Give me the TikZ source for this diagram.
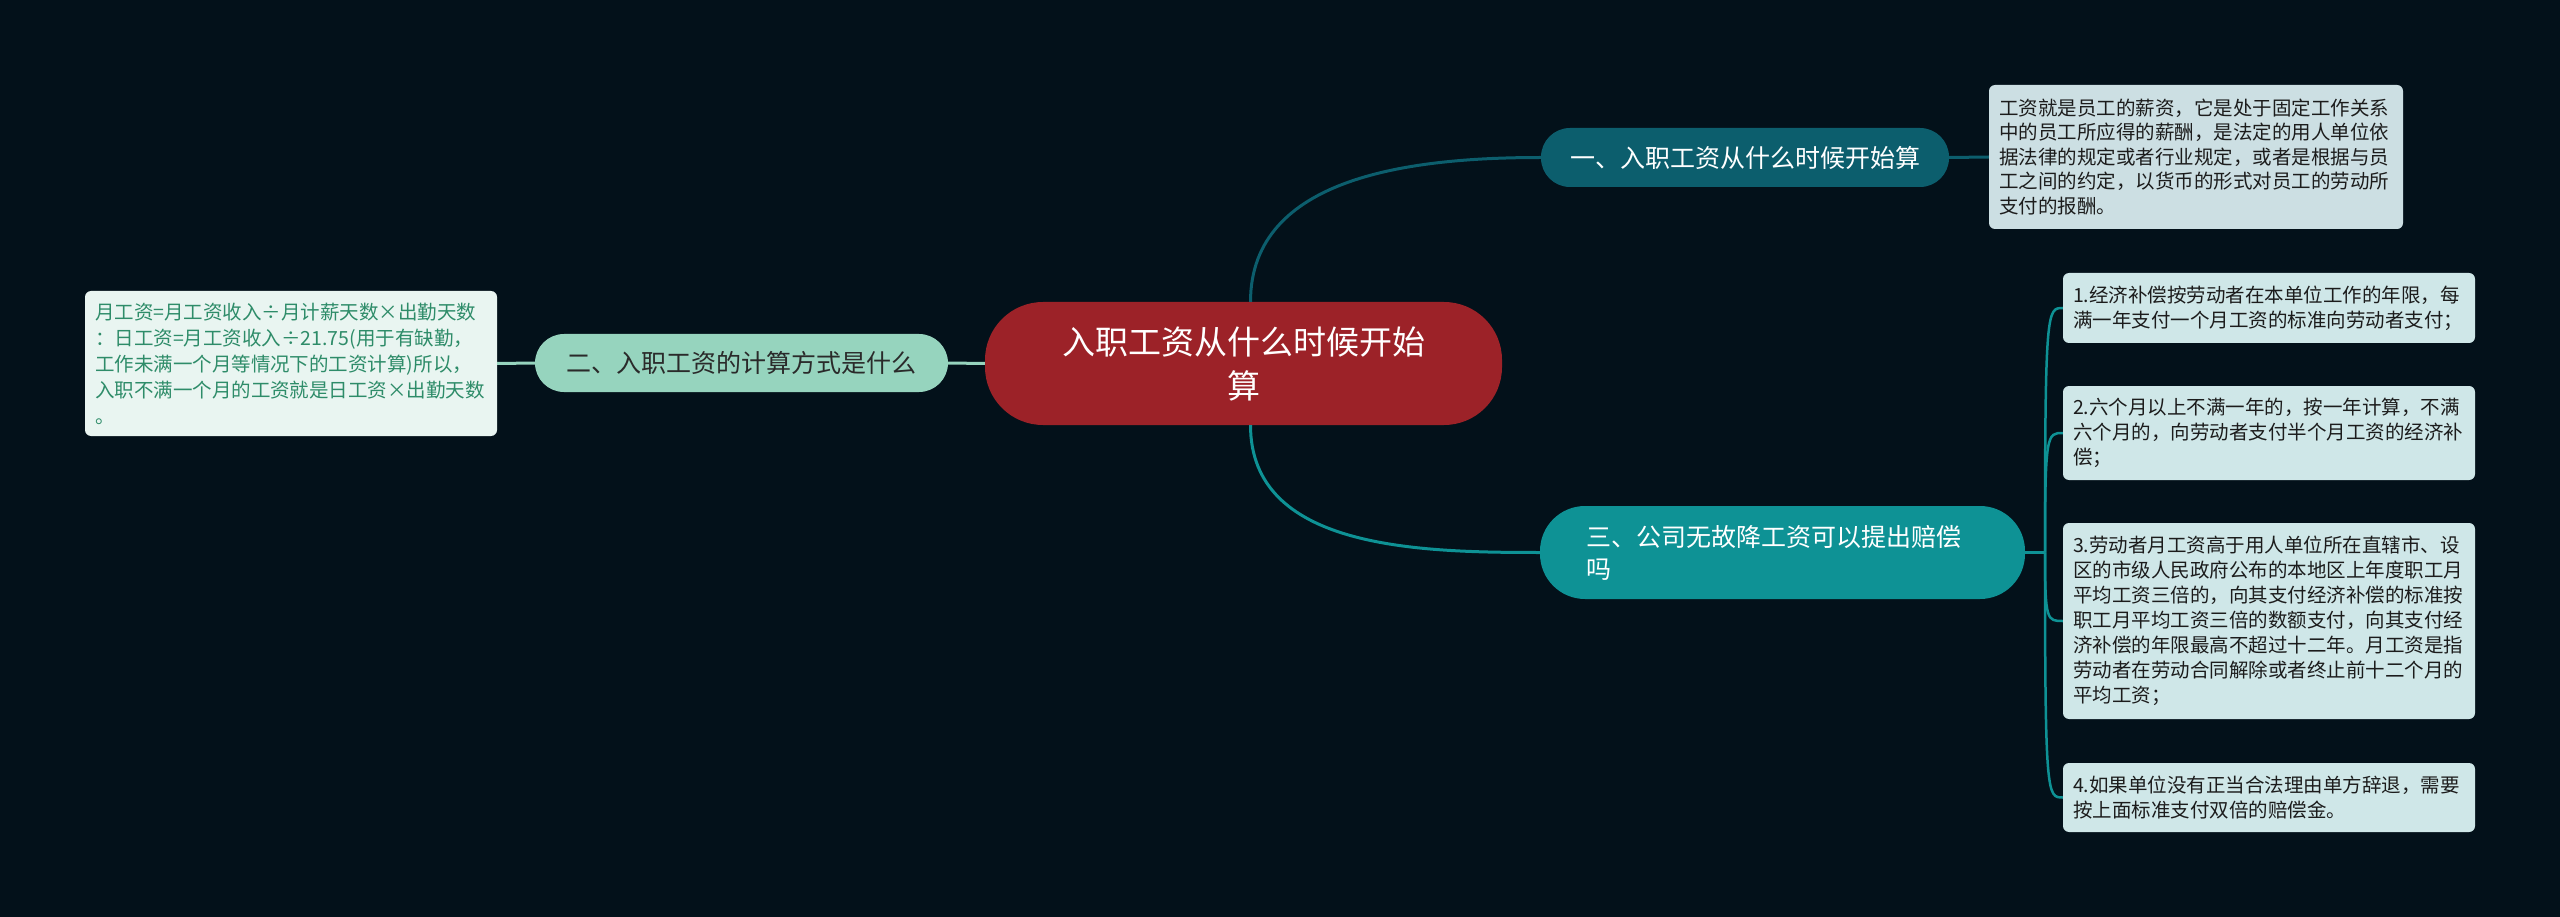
\documentclass[tikz,border=0pt]{standalone}
\usepackage{fontspec}
\newfontfamily\cjk{Noto Sans CJK SC}
\usetikzlibrary{calc}
\definecolor{bgc}{HTML}{03111A}
\definecolor{rootc}{HTML}{9C2228}
\definecolor{bonec}{HTML}{0C5E6D}
\definecolor{btwoc}{HTML}{96D4BE}
\definecolor{bthreec}{HTML}{0E9295}
\definecolor{leafonec}{HTML}{CCDFE3}
\definecolor{leaftwoc}{HTML}{E9F5F1}
\definecolor{leafthreec}{HTML}{CFE7E8}
\definecolor{greentext}{HTML}{2E8C69}
\definecolor{darktext}{HTML}{1C1C1C}
\definecolor{graytext}{HTML}{2A2A2A}
\begin{document}
\begin{tikzpicture}[x=1pt,y=-1pt,
  conn/.style={line width=3pt},
  rootbox/.style={fill=rootc, rounded corners=58pt, minimum width=517pt, minimum height=123pt, inner sep=0pt, text=white, align=center, text width=460pt, font=\cjk\fontsize{33}{44}\selectfont},
  branchbox/.style={rounded corners=29pt, minimum width=410pt, minimum height=58pt, inner sep=0pt, font=\cjk\fontsize{25}{32}\selectfont},
  leafbox/.style={rounded corners=6pt, minimum width=412pt, inner sep=0pt, text width=392pt, align=left, font=\cjk\fontsize{19.5}{25}\selectfont}
]
\fill[bgc] (0,0) rectangle (2560,917);
\useasboundingbox (0,0) rectangle (2560,917);

% root
\node[rootbox] (root) at (1243.5,363.5) {入职工资从什么时候开始\\算};

% branch 1
\node[branchbox, fill=bonec, text=white, minimum width=408pt, minimum height=59pt] (b1) at (1745,157.5) {一、入职工资从什么时候开始算};
\node[leafbox, fill=leafonec, text=darktext, minimum width=414pt, minimum height=144pt, text width=394pt, font=\cjk\fontsize{19.5}{24.5}\selectfont] (l1) at (2196,157) {工资就是员工的薪资，它是处于固定工作关系\\中的员工所应得的薪酬，是法定的用人单位依\\据法律的规定或者行业规定，或者是根据与员\\工之间的约定，以货币的形式对员工的劳动所\\支付的报酬。};

% branch 2
\node[branchbox, fill=btwoc, text=graytext, minimum width=413pt] (b2) at (741.5,363) {二、入职工资的计算方式是什么};
\node[leafbox, fill=leaftwoc, text=greentext, minimum height=145pt, font=\cjk\fontsize{19.5}{26}\selectfont] (l2) at (291,363.5) {月工资=月工资收入÷月计薪天数×出勤天数\\：日工资=月工资收入÷21.75(用于有缺勤，\\工作未满一个月等情况下的工资计算)所以，\\入职不满一个月的工资就是日工资×出勤天数\\。};

% branch 3
\node[branchbox, fill=bthreec, text=white, rounded corners=45pt, minimum width=485pt, minimum height=93pt, text width=393pt, align=left] (b3) at (1782.5,552.5) {三、公司无故降工资可以提出赔偿\\吗};
\node[leafbox, fill=leafthreec, text=darktext, minimum height=70pt] (r1) at (2269,308) {1.经济补偿按劳动者在本单位工作的年限，每\\满一年支付一个月工资的标准向劳动者支付；};
\node[leafbox, fill=leafthreec, text=darktext, minimum height=94pt] (r2) at (2269,433) {2.六个月以上不满一年的，按一年计算，不满\\六个月的，向劳动者支付半个月工资的经济补\\偿；};
\node[leafbox, fill=leafthreec, text=darktext, minimum height=196pt] (r3) at (2269,621) {3.劳动者月工资高于用人单位所在直辖市、设\\区的市级人民政府公布的本地区上年度职工月\\平均工资三倍的，向其支付经济补偿的标准按\\职工月平均工资三倍的数额支付，向其支付经\\济补偿的年限最高不超过十二年。月工资是指\\劳动者在劳动合同解除或者终止前十二个月的\\平均工资；};
\node[leafbox, fill=leafthreec, text=darktext, minimum height=69pt] (r4) at (2269,797.5) {4.如果单位没有正当合法理由单方辞退，需要\\按上面标准支付双倍的赔偿金。};

% connectors
\draw[conn, btwoc] (root.west) -- (b2.east);
\draw[conn, btwoc] (b2.west) -- (l2.east);
\draw[conn, bonec] ($(root.north)+(7,0)$) to[out=90,in=180] (b1.west);
\draw[conn, bonec] (b1.east) -- (l1.west);
\draw[conn, bthreec] ($(root.south)+(7,0)$) to[out=-90,in=180] (b3.west);
\coordinate (j) at (2045,552.5);
\draw[conn, bthreec] (b3.east) -- (j);
\foreach \r in {r1,r2,r3,r4}{
  \draw[conn, bthreec, line width=2.5pt] (j) .. controls (j |- \r.west) and ($(j |- \r.west)+(2,0)$) .. (\r.west);
}
\end{tikzpicture}
\end{document}
